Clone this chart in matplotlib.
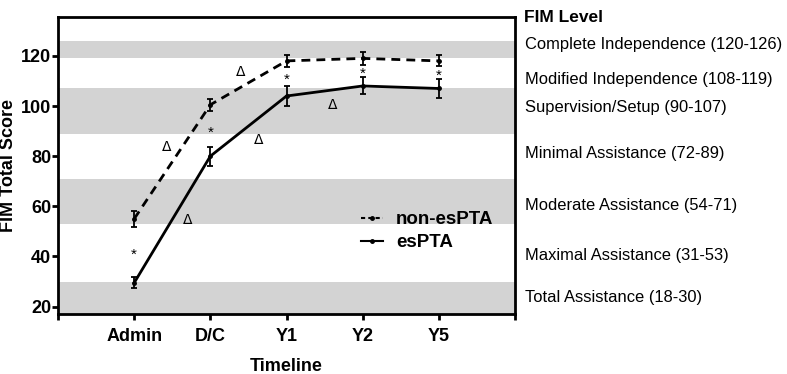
import matplotlib
matplotlib.use('Agg')
import matplotlib.pyplot as plt
from matplotlib.lines import Line2D

plt.rcParams['font.family'] = ['Liberation Sans', 'DejaVu Sans']

# timeline and mean FIM total scores
timeline = ['Admin', 'D/C', 'Y1', 'Y2', 'Y5']
non_espta = [55, 100.5, 118, 119, 118]
non_espta_err = [3.2, 2.3, 2.3, 2.5, 2.2]
espta = [29.5, 80, 104, 108, 107]
espta_err = [2.2, 3.8, 3.8, 3.4, 3.6]

# significance markers
star_x = [1, 2, 3, 4, 5]
star_y = [40.5, 89.5, 110.5, 113.0, 112.2]
delta_x = [1.43, 1.70, 2.40, 2.63, 3.61]
delta_y = [83.5, 54.5, 113.5, 86.5, 100.5]

# FIM level bands (shaded) and labels
bands = [(119.3, 126), (89, 107), (53, 71), (17, 29.8)]
levels = ['Complete Independence (120-126)', 'Modified Independence (108-119)',
          'Supervision/Setup (90-107)', 'Minimal Assistance (72-89)',
          'Moderate Assistance (54-71)', 'Maximal Assistance (31-53)',
          'Total Assistance (18-30)']
level_y = [124.4, 110.4, 99.6, 81.2, 60.4, 40.4, 23.6]

fig = plt.figure(figsize=(7.87, 3.74), dpi=100)
ax = fig.add_axes([0.0737, 0.160, 0.5807, 0.7945])

x = list(range(1, len(timeline) + 1))

for lo, hi in bands:
    ax.axhspan(lo, hi, color='#d3d3d3', lw=0, zorder=0)

ax.errorbar(x, non_espta, yerr=non_espta_err, color='black', lw=2,
            ls=(0, (3.2, 2.2)), marker='o', ms=2.5, capsize=2.5,
            elinewidth=1.3, capthick=1.3, zorder=3)
ax.errorbar(x, espta, yerr=espta_err, color='black', lw=2, ls='-',
            marker='o', ms=2.5, capsize=2.5, elinewidth=1.3, capthick=1.3,
            zorder=3)

for sx, sy in zip(star_x, star_y):
    ax.text(sx, sy, '*', ha='center', va='center', fontsize=11)
for dx, dy in zip(delta_x, delta_y):
    ax.text(dx, dy, '\u0394', ha='center', va='center', fontsize=10,
            family=['DejaVu Sans'])

ax.set_xlim(0, 6)
ax.set_ylim(17, 135.5)
ax.set_xticks(range(0, 7))
ax.set_xticklabels([''] + timeline + [''])
ax.set_yticks([20, 40, 60, 80, 100, 120])

for side in ['left', 'right', 'top', 'bottom']:
    ax.spines[side].set_linewidth(2)
ax.tick_params(axis='both', direction='out', length=4, width=2,
               labelsize=13)
for lab in ax.get_xticklabels() + ax.get_yticklabels():
    lab.set_fontweight('bold')
ax.tick_params(axis='y', pad=1)
ax.tick_params(axis='x', pad=6)

ax.set_xlabel('Timeline', fontsize=13, fontweight='bold', labelpad=9)
ax.set_ylabel('FIM Total Score', fontsize=13, fontweight='bold', labelpad=3)

handles = [Line2D([], [], color='black', lw=1.5, ls=(0, (2, 1.5)),
                  marker='o', ms=2.5),
           Line2D([], [], color='black', lw=1.5, ls='-', marker='o', ms=2.5)]
ax.legend(handles, ['non-esPTA', 'esPTA'], loc='lower right',
          bbox_to_anchor=(0.99, 0.155), frameon=False,
          handlelength=1.2, handletextpad=0.7, labelspacing=0.3,
          prop={'weight': 'bold', 'size': 13.5})

ax.text(1.02, 1.0, 'FIM Level', transform=ax.transAxes, fontsize=12.5,
        fontweight='bold', ha='left', va='center', clip_on=False)
for lab, ly in zip(levels, level_y):
    ax.text(6.13, ly, lab, fontsize=11.9, ha='left', va='center',
            clip_on=False)

fig.savefig('out.png', dpi=100)
